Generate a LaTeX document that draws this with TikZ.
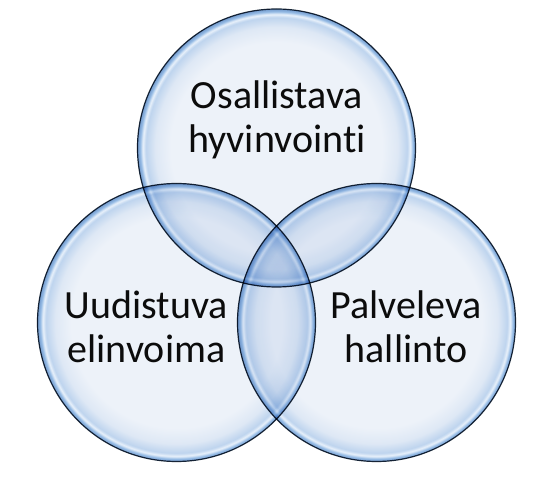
\documentclass[tikz,border=0pt]{standalone}
\usepackage{fontspec}
\setmainfont[Ligatures=NoCommon]{Carlito}
\usetikzlibrary{positioning}
\definecolor{bubcore}{RGB}{237,242,249}
\definecolor{bubmid}{RGB}{222,232,245}
\definecolor{bubsoft}{RGB}{190,212,238}
\definecolor{bubband}{RGB}{152,189,230}
\definecolor{bubshine}{RGB}{234,242,251}
\definecolor{bubedge}{RGB}{115,155,205}
\definecolor{bubline}{RGB}{28,42,58}
\definecolor{captext}{RGB}{12,12,12}
% the circle's rim sits at 25bp of the shading
\pgfdeclareradialshading{bubbleshade}{\pgfpointorigin}{%
  color(0bp)=(bubcore); color(19bp)=(bubcore); color(21.8bp)=(bubmid);
  color(23.5bp)=(bubsoft); color(24.05bp)=(bubshine); color(24.5bp)=(bubband);
  color(25bp)=(bubedge); color(50bp)=(bubedge)}
\tikzset{
  bubble/.style={circle, draw=bubline, line width=1.2pt, shading=bubbleshade,
    minimum size=278pt, inner sep=0pt},
  caption/.style={align=center, text=captext, font=\fontsize{40}{44}\selectfont}
}

\begin{document}
\begin{tikzpicture}[x=1pt, y=1pt]
    \useasboundingbox (0, 0) rectangle (547, 479);

    \begin{scope}[blend mode=multiply]
    \node [bubble] (osa) at (276.5, 331) {};
    \node [bubble] (uud) at (176.5, 156.5) {};
    \node [bubble] (pal) at (376.5, 156.5) {};
    \end{scope}

    % anchor=base is the baseline of the last line
    \node [caption, anchor=base] (osat) at (277, 326) {Osallistava\\hyvinvointi};
    \node [caption, anchor=base] (uudt) at (146.5, 116) {Uudistuva\\elinvoima};
    \node [caption, anchor=base] (palt) at (406, 116) {Palveleva\\hallinto};
  \end{tikzpicture}
\end{document}
